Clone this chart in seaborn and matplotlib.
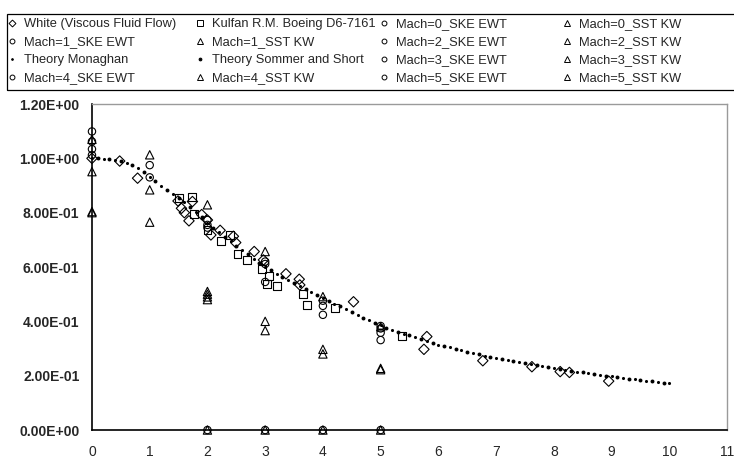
import numpy as np
import pandas as pd
import seaborn as sns
import matplotlib.pyplot as plt
from matplotlib.lines import Line2D
from matplotlib.patches import Rectangle

white_x = [0.0, 0.48, 0.79, 1.49, 1.55, 1.60, 1.68, 1.74, 1.90, 2.00, 2.06, 2.22, 2.45, 2.49,
           2.81, 2.97, 3.36, 3.59, 3.60, 4.53, 5.75, 5.80, 6.77, 7.62, 8.11, 8.27, 8.95]
white_y = [1.00, 0.99, 0.927, 0.843, 0.816, 0.80, 0.77, 0.841, 0.793, 0.773, 0.718, 0.735, 0.713, 0.69,
           0.657, 0.626, 0.575, 0.555, 0.534, 0.472, 0.297, 0.344, 0.255, 0.233, 0.215, 0.212, 0.18]

kulfan_x = [1.51, 1.74, 1.76, 2.00, 2.24, 2.39, 2.52, 2.69, 2.94, 3.03, 3.06, 3.20, 3.65, 3.72, 4.21, 5.37]
kulfan_y = [0.853, 0.859, 0.796, 0.737, 0.697, 0.717, 0.647, 0.626, 0.592, 0.538, 0.567, 0.530,
            0.50, 0.46, 0.448, 0.347]

# CFD results per Mach number
ske_x = {0: [0, 0, 0, 0], 1: [1, 1], 2: [2, 2, 2, 2], 3: [3, 3, 3, 3], 4: [4, 4, 4, 4], 5: [5, 5, 5, 5, 5]}
ske_y = {0: [1.099, 1.062, 1.034, 1.012], 1: [0.975, 0.93], 2: [0.773, 0.755, 0.745, 0.0],
         3: [0.62, 0.611, 0.545, 0.0], 4: [0.476, 0.457, 0.424, 0.0], 5: [0.383, 0.374, 0.358, 0.331, 0.0]}
sst_x = {0: [0, 0, 0, 0], 1: [1, 1, 1], 2: [2, 2, 2, 2, 2, 2], 3: [3, 3, 3, 3], 4: [4, 4, 4, 4], 5: [5, 5, 5, 5]}
sst_y = {0: [1.07, 0.951, 0.804, 0.80], 1: [1.013, 0.884, 0.765], 2: [0.829, 0.51, 0.50, 0.49, 0.48, 0.0],
         3: [0.657, 0.40, 0.366, 0.0], 4: [0.491, 0.297, 0.28, 0.0], 5: [0.38, 0.227, 0.222, 0.0]}

# theory curves
monaghan_x = [0.0, 0.2, 0.4, 0.6, 0.8, 1.0, 1.2, 1.4, 1.6, 1.8, 2.0, 2.2, 2.4, 2.6, 2.8, 3.0, 3.2, 3.4,
              3.6, 3.8, 4.0, 4.2, 4.4, 4.6, 4.8, 5.0, 5.2, 5.4, 5.6, 5.8, 6.0, 6.2, 6.4, 6.6, 6.8, 7.0,
              7.2, 7.4, 7.6, 7.8, 8.0, 8.2, 8.4, 8.6, 8.8, 9.0, 9.2, 9.4, 9.6, 9.8, 10.0]
monaghan_y = [1.000, 0.998, 0.993, 0.983, 0.963, 0.930, 0.900, 0.870, 0.838, 0.802, 0.763, 0.728, 0.695,
              0.663, 0.631, 0.600, 0.576, 0.552, 0.530, 0.508, 0.487, 0.465, 0.444, 0.424, 0.404, 0.385,
              0.369, 0.355, 0.341, 0.327, 0.314, 0.304, 0.294, 0.284, 0.274, 0.265, 0.257, 0.249, 0.242,
              0.235, 0.228, 0.222, 0.215, 0.209, 0.203, 0.197, 0.191, 0.186, 0.181, 0.177, 0.172]
sommer_x = [0.1, 0.3, 0.5, 0.7, 0.9, 1.1, 1.3, 1.5, 1.7, 1.9, 2.1, 2.3, 2.5, 2.7, 2.9, 3.1, 3.3, 3.5,
            3.7, 3.9, 4.1, 4.3, 4.5, 4.7, 4.9, 5.1, 5.3, 5.5, 5.7, 5.9, 6.1, 6.3, 6.5, 6.7, 6.9, 7.1,
            7.3, 7.5, 7.7, 7.9, 8.1, 8.3, 8.5, 8.7, 8.9, 9.1, 9.3, 9.5, 9.7, 9.9]
sommer_y = [1.000, 0.996, 0.989, 0.975, 0.948, 0.915, 0.885, 0.855, 0.820, 0.783, 0.745, 0.711, 0.679,
            0.647, 0.615, 0.588, 0.564, 0.541, 0.519, 0.497, 0.476, 0.455, 0.434, 0.414, 0.394, 0.377,
            0.362, 0.348, 0.334, 0.320, 0.309, 0.299, 0.289, 0.279, 0.270, 0.261, 0.253, 0.246, 0.238,
            0.231, 0.225, 0.219, 0.212, 0.206, 0.200, 0.194, 0.189, 0.184, 0.179, 0.174]

y_ticks = [0.0, 0.2, 0.4, 0.6, 0.8, 1.0, 1.2]
x_ticks = list(range(0, 12))

sns.set_style("white")
plt.rcParams['font.family'] = ['Liberation Sans', 'DejaVu Sans']

fig = plt.figure(figsize=(7.34, 4.61), dpi=100)
ax = fig.add_axes([0.1253, 0.0672, 0.8652, 0.7072])

hollow = dict(facecolors='none', edgecolor='black', linewidth=0.8, clip_on=False, zorder=3)

# theory dots first
sns.scatterplot(x=monaghan_x, y=monaghan_y, ax=ax, marker='o', s=5, color='black',
                edgecolor='black', linewidth=0, clip_on=False, zorder=2)
sns.scatterplot(x=sommer_x, y=sommer_y, ax=ax, marker='o', s=8, color='black',
                edgecolor='black', linewidth=0, clip_on=False, zorder=2)

sns.scatterplot(x=white_x, y=white_y, ax=ax, marker='D', s=28, **hollow)
sns.scatterplot(x=kulfan_x, y=kulfan_y, ax=ax, marker='s', s=32, **hollow)
for m in range(6):
    sns.scatterplot(x=ske_x[m], y=ske_y[m], ax=ax, marker='o', s=28, **hollow)
    sns.scatterplot(x=sst_x[m], y=sst_y[m], ax=ax, marker='^', s=36, **hollow)

ax.set_xlim(0, 11)
ax.set_ylim(0, 1.2)
ax.set_xticks(x_ticks)
ax.set_xticklabels([str(t) for t in x_ticks], fontsize=10)
ax.set_yticks(y_ticks)
ax.set_yticklabels([f"{v:.2E}" for v in y_ticks], fontsize=10, fontweight='bold')
ax.tick_params(axis='both', direction='out', length=5, width=1, color='black')
ax.tick_params(axis='x', pad=6)
ax.tick_params(axis='y', pad=4)
for side in ['left', 'bottom']:
    ax.spines[side].set_color('black')
    ax.spines[side].set_linewidth(1.2)
for side in ['top', 'right']:
    ax.spines[side].set_color('#9a9a9a')
    ax.spines[side].set_linewidth(1.0)
ax.set_xlabel('')
ax.set_ylabel('')

# legend, laid out row by row like the original (4 columns)
def h(marker, ms, filled=False):
    return Line2D([], [], linestyle='none', marker=marker, markersize=ms, markeredgewidth=0.7,
                  markeredgecolor='black', markerfacecolor='black' if filled else 'none')

entries = [
    [(h('D', 3.5), 'White (Viscous Fluid Flow)'), (h('o', 3.5), 'Mach=1_SKE EWT'),
     (h('o', 1.2, True), 'Theory Monaghan'), (h('o', 3.5), 'Mach=4_SKE EWT')],
    [(h('s', 4), 'Kulfan R.M. Boeing D6-7161'), (h('^', 4), 'Mach=1_SST KW'),
     (h('o', 2, True), 'Theory Sommer and Short'), (h('^', 4), 'Mach=4_SST KW')],
    [(h('o', 3.5), 'Mach=0_SKE EWT'), (h('o', 3.5), 'Mach=2_SKE EWT'),
     (h('o', 3.5), 'Mach=3_SKE EWT'), (h('o', 3.5), 'Mach=5_SKE EWT')],
    [(h('^', 4), 'Mach=0_SST KW'), (h('^', 4), 'Mach=2_SST KW'),
     (h('^', 4), 'Mach=3_SST KW'), (h('^', 4), 'Mach=5_SST KW')],
]
col_x = [8, 196, 380, 563]
for cx, col in zip(col_x, entries):
    fig.legend([e[0] for e in col], [e[1] for e in col], loc='upper left',
               bbox_to_anchor=(cx / 734, 1 - 18 / 461), frameon=False, fontsize=9.3,
               handlelength=0.6, handletextpad=0.67, labelspacing=0.47, borderpad=0,
               borderaxespad=0)

fig.patches.append(Rectangle((7 / 734, 1 - 90 / 461), 740 / 734, 76 / 461,
                             transform=fig.transFigure, fill=False, edgecolor='black', linewidth=0.9))

fig.savefig('out.png', dpi=100)
